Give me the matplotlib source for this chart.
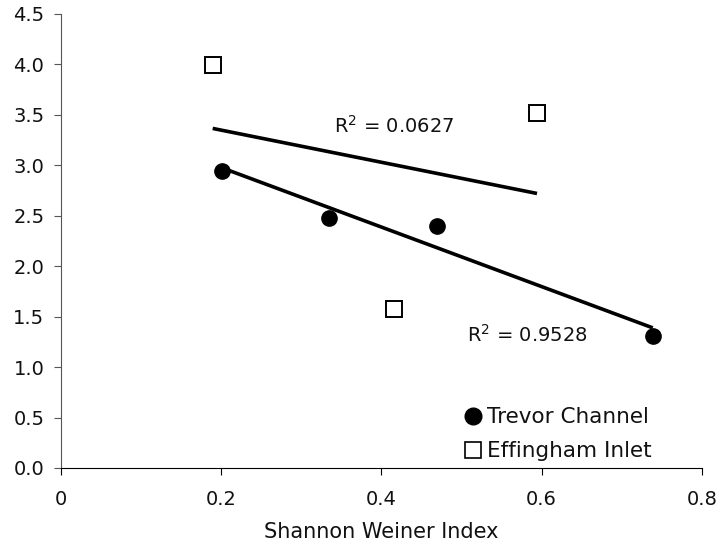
import numpy as np
import matplotlib
matplotlib.use("Agg")
import matplotlib.pyplot as plt
from matplotlib.lines import Line2D

plt.rcParams["font.family"] = ["DejaVu Sans"]

# Shannon Weiner index vs. response for the two sites
trevor_x = [0.2014, 0.3346, 0.4700, 0.7388]
trevor_y = [2.943, 2.475, 2.402, 1.305]
effingham_x = [0.1894, 0.4162, 0.5943]
effingham_y = [3.994, 1.576, 3.521]

trevor_r2 = "0.9528"
effingham_r2 = "0.0627"

x_ticks = [0, 0.2, 0.4, 0.6, 0.8]
x_tick_labels = ["0", "0.2", "0.4", "0.6", "0.8"]
y_ticks = [0.0, 0.5, 1.0, 1.5, 2.0, 2.5, 3.0, 3.5, 4.0, 4.5]
y_tick_labels = [f"{v:.1f}" for v in y_ticks]

fig = plt.figure(figsize=(7.21, 5.48), dpi=100)
ax = fig.add_axes([0.0846, 0.146, 0.8887, 0.8285])

# linear trend lines spanning each series' x range
for xs, ys in [(trevor_x, trevor_y), (effingham_x, effingham_y)]:
    slope, intercept = np.polyfit(xs, ys, 1)
    xl = np.array([min(xs), max(xs)])
    ax.plot(xl, slope * xl + intercept, color="black", lw=2.6,
            solid_capstyle="butt", zorder=2)

ax.plot(trevor_x, trevor_y, "o", color="black", ms=11, zorder=3)
ax.plot(effingham_x, effingham_y, "s", mfc="white", mec="black",
        mew=1.4, ms=12, zorder=3)

ax.text(0.341, 3.39, r"R$^2$ = " + effingham_r2, fontsize=14,
        ha="left", va="center", color="#111111")
ax.text(0.507, 1.32, r"R$^2$ = " + trevor_r2, fontsize=14,
        ha="left", va="center", color="#111111")

ax.set_xlim(0, 0.8)
ax.set_ylim(0, 4.5)
ax.set_xticks(x_ticks)
ax.set_xticklabels(x_tick_labels)
ax.set_yticks(y_ticks)
ax.set_yticklabels(y_tick_labels)
ax.tick_params(axis="both", labelsize=14, length=5, direction="out",
               labelcolor="#111111")
ax.tick_params(axis="x", pad=11, color="black")
ax.tick_params(axis="y", pad=7, color="#555555")

for side in ["top", "right"]:
    ax.spines[side].set_visible(False)
ax.spines["left"].set_color("#555555")
ax.spines["bottom"].set_color("black")

ax.set_xlabel("Shannon Weiner Index", fontsize=15, labelpad=9,
              color="#111111")

handles = [
    Line2D([], [], ls="none", marker="o", color="black", ms=12),
    Line2D([], [], ls="none", marker="s", mfc="white", mec="black",
           mew=1.2, ms=12),
]
leg = ax.legend(handles, ["Trevor Channel", "Effingham Inlet"],
                loc="upper left", bbox_to_anchor=(0.6296, 0.134),
                frameon=False, fontsize=15.5, handlelength=0.8,
                handletextpad=0.26, labelspacing=0.65, borderaxespad=0,
                borderpad=0)
for t in leg.get_texts():
    t.set_color("#111111")

fig.savefig("out.png", dpi=100)
